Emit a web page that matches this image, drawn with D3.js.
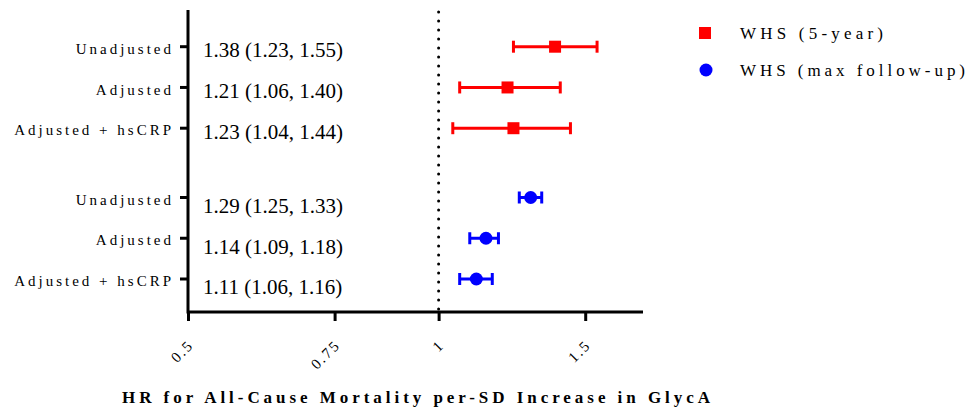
<!DOCTYPE html>
<html>
<head>
<meta charset="utf-8">
<script src="https://cdn.jsdelivr.net/npm/d3@7"></script>
<style>
  body { margin: 0; background: #fff; }
  text { font-family: "Liberation Serif", "Times New Roman", serif; fill: #000; }
</style>
</head>
<body>
<div id="chart"></div>
<script>
// chart values
var categories = ["Unadjusted", "Adjusted", "Adjusted + hsCRP"];
var seriesNames = ["WHS (5-year)", "WHS (max follow-up)"];
var whs5Hr = [1.38, 1.21, 1.23];
var whs5Lo = [1.23, 1.06, 1.04];
var whs5Hi = [1.55, 1.40, 1.44];
var whsMaxHr = [1.29, 1.14, 1.11];
var whsMaxLo = [1.25, 1.09, 1.06];
var whsMaxHi = [1.33, 1.18, 1.16];
var xTicks = [0.5, 0.75, 1, 1.5];
var xTitle = "HR for All-Cause Mortality per-SD Increase in GlycA";

var width = 972, height = 411;
var colors = ["#ff0000", "#0000ff"];

var svg = d3.select("#chart").append("svg")
    .attr("width", width)
    .attr("height", height);

// log scale on HR
var x = d3.scaleLog()
    .domain([0.5, 1.76])
    .range([188, 643]);

// row index -> pixel, second group sits after a gap
var groupGap = 0.7;
var y = d3.scaleLinear()
    .domain([0, 5 + groupGap])
    .range([46.7, 279]);

var groups = [
  {hr: whs5Hr, lo: whs5Lo, hi: whs5Hi, textOffset: 3},
  {hr: whsMaxHr, lo: whsMaxLo, hi: whsMaxHi, textOffset: 8}
];

var rows = [];
groups.forEach(function(g, gi) {
  categories.forEach(function(c, i) {
    rows.push({
      group: gi, cat: c, hr: g.hr[i], lo: g.lo[i], hi: g.hi[i],
      row: gi * (3 + groupGap) + i, textOffset: g.textOffset
    });
  });
});

var axisY = 312;
var axisTop = 10;

// reference line at 1
svg.append("line")
    .attr("x1", x(1)).attr("x2", x(1))
    .attr("y1", axisTop + 2).attr("y2", axisY)
    .attr("stroke", "#000")
    .attr("stroke-width", 3)
    .attr("stroke-linecap", "round")
    .attr("stroke-dasharray", "0,9");

// x axis
var xAxis = svg.append("g")
    .attr("transform", "translate(0," + axisY + ")")
    .call(d3.axisBottom(x).tickValues(xTicks).tickSize(9).tickFormat(d3.format("")));
xAxis.select(".domain").attr("stroke-width", 3).attr("d", "M" + x.range()[0] + ",0H" + x.range()[1]);
xAxis.selectAll(".tick line").attr("stroke-width", 3);
xAxis.selectAll(".tick text")
    .attr("font-size", 15)
    .style("font-family", "Liberation Serif, serif")
    .style("letter-spacing", "2px")
    .attr("text-anchor", "end")
    .attr("y", 0).attr("dy", 0)
    .attr("transform", "translate(6,34) rotate(-45)");

// y axis (vertical line with category ticks)
svg.append("line")
    .attr("x1", 188).attr("x2", 188)
    .attr("y1", axisTop).attr("y2", axisY + 1.5)
    .attr("stroke", "#000").attr("stroke-width", 3);

svg.selectAll(".ytick")
    .data(rows).enter().append("line")
    .attr("class", "ytick")
    .attr("x1", 180).attr("x2", 188)
    .attr("y1", function(d) { return y(d.row); })
    .attr("y2", function(d) { return y(d.row); })
    .attr("stroke", "#000").attr("stroke-width", 3);

svg.selectAll(".ylabel")
    .data(rows).enter().append("text")
    .attr("class", "ylabel")
    .attr("x", 174)
    .attr("y", function(d) { return y(d.row) + 2; })
    .attr("dy", "0.35em")
    .attr("text-anchor", "end")
    .attr("font-size", 15)
    .style("letter-spacing", "3px")
    .text(function(d) { return d.cat; });

// HR (CI) text
svg.selectAll(".hrtext")
    .data(rows).enter().append("text")
    .attr("class", "hrtext")
    .attr("x", 203)
    .attr("y", function(d) { return y(d.row) + d.textOffset; })
    .attr("dy", "0.35em")
    .attr("font-size", 21)
    .text(function(d) { return d.hr.toFixed(2) + " (" + d.lo.toFixed(2) + ", " + d.hi.toFixed(2) + ")"; });

// error bars
var bars = svg.selectAll(".err")
    .data(rows).enter().append("g")
    .attr("class", "err")
    .attr("stroke", function(d) { return colors[d.group]; })
    .attr("stroke-width", 3);
bars.append("line")
    .attr("x1", function(d) { return x(d.lo); })
    .attr("x2", function(d) { return x(d.hi); })
    .attr("y1", function(d) { return y(d.row); })
    .attr("y2", function(d) { return y(d.row); });
bars.append("line")
    .attr("x1", function(d) { return x(d.lo); })
    .attr("x2", function(d) { return x(d.lo); })
    .attr("y1", function(d) { return y(d.row) - 6; })
    .attr("y2", function(d) { return y(d.row) + 6; });
bars.append("line")
    .attr("x1", function(d) { return x(d.hi); })
    .attr("x2", function(d) { return x(d.hi); })
    .attr("y1", function(d) { return y(d.row) - 6; })
    .attr("y2", function(d) { return y(d.row) + 6; });

// markers
svg.selectAll(".sq")
    .data(rows.filter(function(d) { return d.group === 0; }))
    .enter().append("rect")
    .attr("x", function(d) { return x(d.hr) - 6; })
    .attr("y", function(d) { return y(d.row) - 6; })
    .attr("width", 12).attr("height", 12)
    .attr("fill", colors[0]);
svg.selectAll(".dot")
    .data(rows.filter(function(d) { return d.group === 1; }))
    .enter().append("circle")
    .attr("cx", function(d) { return x(d.hr); })
    .attr("cy", function(d) { return y(d.row); })
    .attr("r", 6.5)
    .attr("fill", colors[1]);

// x title
svg.append("text")
    .attr("x", 122)
    .attr("y", 403)
    .attr("font-size", 17)
    .attr("font-weight", "bold")
    .attr("textLength", 588)
    .attr("lengthAdjust", "spacing")
    .text(xTitle);

// legend
var legend = svg.append("g");
legend.append("rect")
    .attr("x", 699).attr("y", 27).attr("width", 12).attr("height", 12)
    .attr("fill", colors[0]);
legend.append("circle")
    .attr("cx", 706).attr("cy", 70).attr("r", 6.5)
    .attr("fill", colors[1]);
legend.selectAll(".legtext")
    .data(seriesNames).enter().append("text")
    .attr("x", 740)
    .attr("y", function(d, i) { return 39 + i * 37; })
    .attr("font-size", 17)
    .attr("textLength", function(d, i) { return i === 0 ? 143 : 225; })
    .attr("lengthAdjust", "spacing")
    .text(function(d) { return d; });
</script>
</body>
</html>
